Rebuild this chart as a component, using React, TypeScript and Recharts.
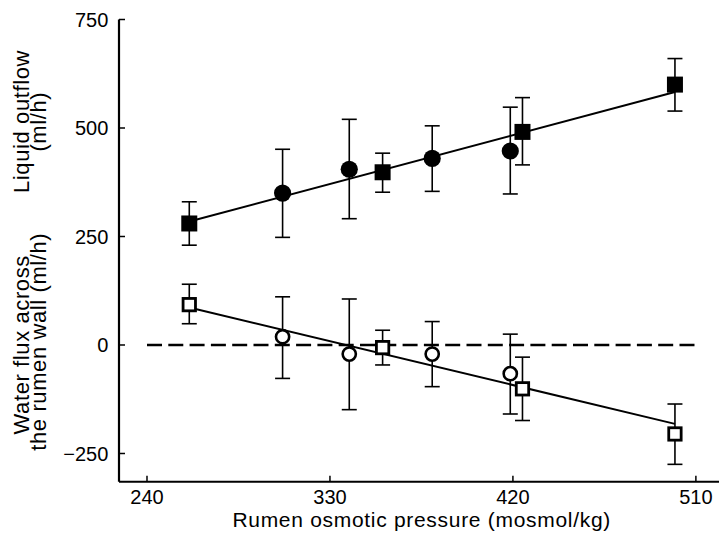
import React from 'react';
import { ScatterChart, Scatter, XAxis, YAxis, ErrorBar } from 'recharts';

const FONT = '"Liberation Sans", Arial, Helvetica, sans-serif';

// Tick labels
const xTicks = [240, 330, 420, 510];
const yTicks = [-250, 0, 250, 500, 750];

// Rumen osmotic pressure (mosmol/kg)
const osmoticSquares = [260.8, 355.9, 424.7, 499.7];
const osmoticCircles = [306.7, 339.5, 380.3, 418.7];

// Liquid outflow (ml/h), filled markers; errors as [below, above]
const outflowSquares = [280, 398, 491, 600];
const outflowSquaresErr = [[50, 50], [46, 44], [76, 79], [61, 60]];
const outflowCircles = [350, 405, 430, 447];
const outflowCirclesErr = [[102, 101], [114, 115], [76, 75], [99, 101]];

// Water flux across the rumen wall (ml/h), open markers
const fluxSquares = [93, -6, -101, -205];
const fluxSquaresErr = [[44, 47], [40, 40], [73, 73], [70, 69]];
const fluxCircles = [19, -21, -21, -66];
const fluxCirclesErr = [[96, 92], [128, 127], [75, 75], [93, 91]];

// Regression lines (end points)
const regX = [260.8, 499.7];
const regOutflow = [284.5, 583];
const regFlux = [86.5, -181.8];

// Zero reference
const zeroX = [240, 510];
const zeroY = [0, 0];

const toPoints = (xs: number[], ys: number[], errs?: number[][]) =>
  xs.map((x, i) => ({ x, y: ys[i], err: errs ? errs[i] : undefined }));

const FilledSquare = (p: any) => (
  <rect x={p.cx - 8} y={p.cy - 8} width={16} height={16} fill="#000" />
);
const FilledCircle = (p: any) => <circle cx={p.cx} cy={p.cy} r={8.6} fill="#000" />;
const OpenSquare = (p: any) => (
  <rect x={p.cx - 6.2} y={p.cy - 6.2} width={12.4} height={12.4} fill="#fff" stroke="#000" strokeWidth={2.8} />
);
const OpenCircle = (p: any) => (
  <circle cx={p.cx} cy={p.cy} r={6.6} fill="#fff" stroke="#000" strokeWidth={2.6} />
);
const NoShape = () => <g />;

const YLabels = () => (
  <g fontFamily={FONT} fontSize={22} fill="#000">
    <text transform="translate(28.5,121.5) rotate(-90)" textAnchor="middle" letterSpacing={0.6}>
      Liquid outflow
    </text>
    <text transform="translate(45.5,121.7) rotate(-90)" textAnchor="middle" letterSpacing={0.6}>
      (ml/h)
    </text>
    <text transform="translate(29.3,344.8) rotate(-90)" textAnchor="middle" letterSpacing={0.6}>
      Water flux across
    </text>
    <text transform="translate(46.2,341.7) rotate(-90)" textAnchor="middle" letterSpacing={0.6}>
      the rumen wall (ml/h)
    </text>
  </g>
);

const XLabel = () => (
  <text x={421.7} y={527} textAnchor="middle" fontFamily={FONT} fontSize={21} letterSpacing={0.7} fill="#000">
    Rumen osmotic pressure (mosmol/kg)
  </text>
);

const fmt = (v: number) => (v < 0 ? '\u2212' + Math.abs(v) : String(v));

export default function App() {
  return (
    <div style={{ position: 'absolute', left: 0, top: 0, width: 719, height: 539, background: '#fff' }}>
      <ScatterChart width={719} height={539} margin={{ top: 19.5, right: 0, bottom: 0, left: 59 }}>
        <XAxis
          type="number"
          dataKey="x"
          domain={[226.23, 521.37]}
          allowDataOverflow
          ticks={xTicks}
          interval={0}
          height={57.3}
          tickSize={-6}
          tickMargin={14}
          tick={{ fill: '#000', fontSize: 20, fontFamily: FONT }}
          tickLine={{ stroke: '#000', strokeWidth: 1.5 }}
          axisLine={{ stroke: '#000', strokeWidth: 2 }}
          label={<XLabel />}
        />
        <YAxis
          type="number"
          dataKey="y"
          domain={[-315, 750]}
          allowDataOverflow
          ticks={yTicks}
          interval={0}
          width={60}
          tickSize={-6}
          tickMargin={16.7}
          tickFormatter={fmt}
          tick={{ fill: '#000', fontSize: 20, fontFamily: FONT }}
          tickLine={{ stroke: '#000', strokeWidth: 1.5 }}
          axisLine={{ stroke: '#000', strokeWidth: 2.2 }}
          label={<YLabels />}
        />
        <Scatter
          data={toPoints(zeroX, zeroY)}
          shape={NoShape}
          line={{ stroke: '#000', strokeWidth: 2.6, strokeDasharray: '15 6.3' }}
          isAnimationActive={false}
        />
        <Scatter
          data={toPoints(regX, regOutflow)}
          shape={NoShape}
          line={{ stroke: '#000', strokeWidth: 2 }}
          isAnimationActive={false}
        />
        <Scatter
          data={toPoints(regX, regFlux)}
          shape={NoShape}
          line={{ stroke: '#000', strokeWidth: 2 }}
          isAnimationActive={false}
        />
        <Scatter data={toPoints(osmoticCircles, outflowCircles, outflowCirclesErr)} shape={FilledCircle} isAnimationActive={false}>
          <ErrorBar dataKey="err" direction="y" width={7.5} stroke="#000" strokeWidth={1.6} isAnimationActive={false} />
        </Scatter>
        <Scatter data={toPoints(osmoticSquares, outflowSquares, outflowSquaresErr)} shape={FilledSquare} isAnimationActive={false}>
          <ErrorBar dataKey="err" direction="y" width={7.5} stroke="#000" strokeWidth={1.6} isAnimationActive={false} />
        </Scatter>
        <Scatter data={toPoints(osmoticCircles, fluxCircles, fluxCirclesErr)} shape={OpenCircle} isAnimationActive={false}>
          <ErrorBar dataKey="err" direction="y" width={7.5} stroke="#000" strokeWidth={1.6} isAnimationActive={false} />
        </Scatter>
        <Scatter data={toPoints(osmoticSquares, fluxSquares, fluxSquaresErr)} shape={OpenSquare} isAnimationActive={false}>
          <ErrorBar dataKey="err" direction="y" width={7.5} stroke="#000" strokeWidth={1.6} isAnimationActive={false} />
        </Scatter>
      </ScatterChart>
    </div>
  );
}
